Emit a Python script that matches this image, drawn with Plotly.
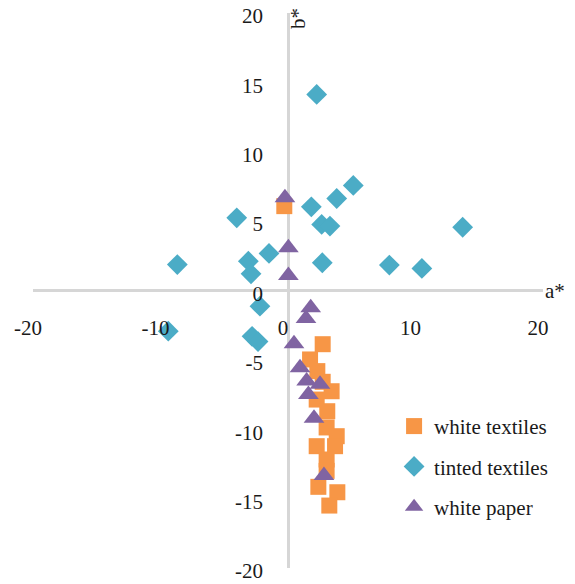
import plotly.graph_objects as go

# ---- data (a*, b*) ----
white_textiles_a = [-0.29, 2.72, 1.73, 2.30, 2.72, 3.42, 2.25, 3.08, 3.03, 3.82, 2.25, 3.69, 3.03, 3.03, 2.38, 3.87, 3.24]
white_textiles_b = [6.08, -3.87, -4.97, -5.81, -6.58, -7.26, -7.86, -8.70, -9.87, -10.50, -11.22, -11.22, -12.18, -13.00, -14.15, -14.54, -15.50]

tinted_textiles_a = [2.25, 5.12, 3.82, 1.83, -4.02, 2.64, 3.29, 13.70, -1.49, -8.68, -3.11, -2.90, 2.69, 7.95, 10.50, -2.20, -9.39, -2.82, -2.35]
tinted_textiles_b = [14.13, 7.57, 6.63, 6.03, 5.24, 4.76, 4.64, 4.56, 2.67, 1.87, 2.11, 1.20, 2.00, 1.83, 1.59, -1.13, -2.93, -3.30, -3.68]

white_paper_a = [-0.24, 0.03, 0.03, 1.78, 1.41, 0.47, 0.94, 1.46, 2.51, 1.60, 2.04, 2.82]
white_paper_b = [6.68, 3.08, 1.08, -1.25, -2.02, -3.84, -5.57, -6.53, -6.75, -7.50, -9.20, -13.33]

series_names = ["white textiles", "tinted textiles", "white paper"]
x_ticks = [-20, -10, 0, 10, 20]
y_ticks = [-20, -15, -10, -5, 0, 5, 10, 15, 20]

FONT = "Liberation Serif, Times New Roman, serif"
TXT = "#1a1a1a"
AXIS_COL = "#d6d6d6"

fig = go.Figure()
fig.add_trace(go.Scatter(
    x=white_textiles_a, y=white_textiles_b, mode="markers", name=series_names[0],
    legendgroup="g1",
    marker=dict(symbol="square", size=16, color="#F79646")))
fig.add_trace(go.Scatter(
    x=tinted_textiles_a, y=tinted_textiles_b, mode="markers", name=series_names[1],
    legendgroup="g2",
    marker=dict(symbol="diamond", size=16, color="#4BACC6")))
fig.add_trace(go.Scatter(
    x=white_paper_a, y=white_paper_b, mode="markers", name=series_names[2],
    legendgroup="g3",
    marker=dict(symbol="triangle-up", size=18, color="#8064A2")))

# the page body has an 8px margin, so the figure is 8px smaller and shifted
fig.update_layout(
    width=567, height=576,
    margin=dict(l=25, r=32, t=5, b=16),
    paper_bgcolor="white", plot_bgcolor="white",
    font=dict(family=FONT, size=21, color=TXT),
    showlegend=True,
    legend=dict(x=0.708, y=0.292, xanchor="left", yanchor="top",
                bgcolor="rgba(0,0,0,0)", font=dict(size=21, family=FONT, color=TXT),
                tracegroupgap=10),
    xaxis=dict(range=[-20, 20], tickvals=x_ticks, ticktext=[str(v) for v in x_ticks],
               showgrid=False, showline=False, ticks="", automargin=False,
               zeroline=True, zerolinecolor=AXIS_COL, zerolinewidth=2.5,
               anchor="free", position=0.5, ticklabelstandoff=22, ticklabelshift=-5,
               ticklabeloverflow="allow",
               tickfont=dict(size=21, family=FONT, color=TXT)),
    yaxis=dict(range=[-20, 20], tickvals=y_ticks, ticktext=[str(v) for v in y_ticks],
               showgrid=False, showline=False, ticks="", automargin=False,
               zeroline=True, zerolinecolor=AXIS_COL, zerolinewidth=2.5,
               anchor="free", position=0.5, ticklabelstandoff=25, ticklabelshift=3,
               ticklabeloverflow="allow",
               tickfont=dict(size=21, family=FONT, color=TXT)),
    annotations=[
        dict(text="a*", xref="paper", x=1, xanchor="left", xshift=0,
             yref="y", y=0, yanchor="middle", showarrow=False,
             font=dict(size=21, family=FONT, color=TXT)),
        dict(text="b*", xref="x", x=0, xanchor="center", xshift=10,
             yref="paper", y=1, yanchor="middle", yshift=-6, textangle=-90,
             showarrow=False, font=dict(size=21, family=FONT, color=TXT)),
    ],
)

fig.write_html("out.html")
